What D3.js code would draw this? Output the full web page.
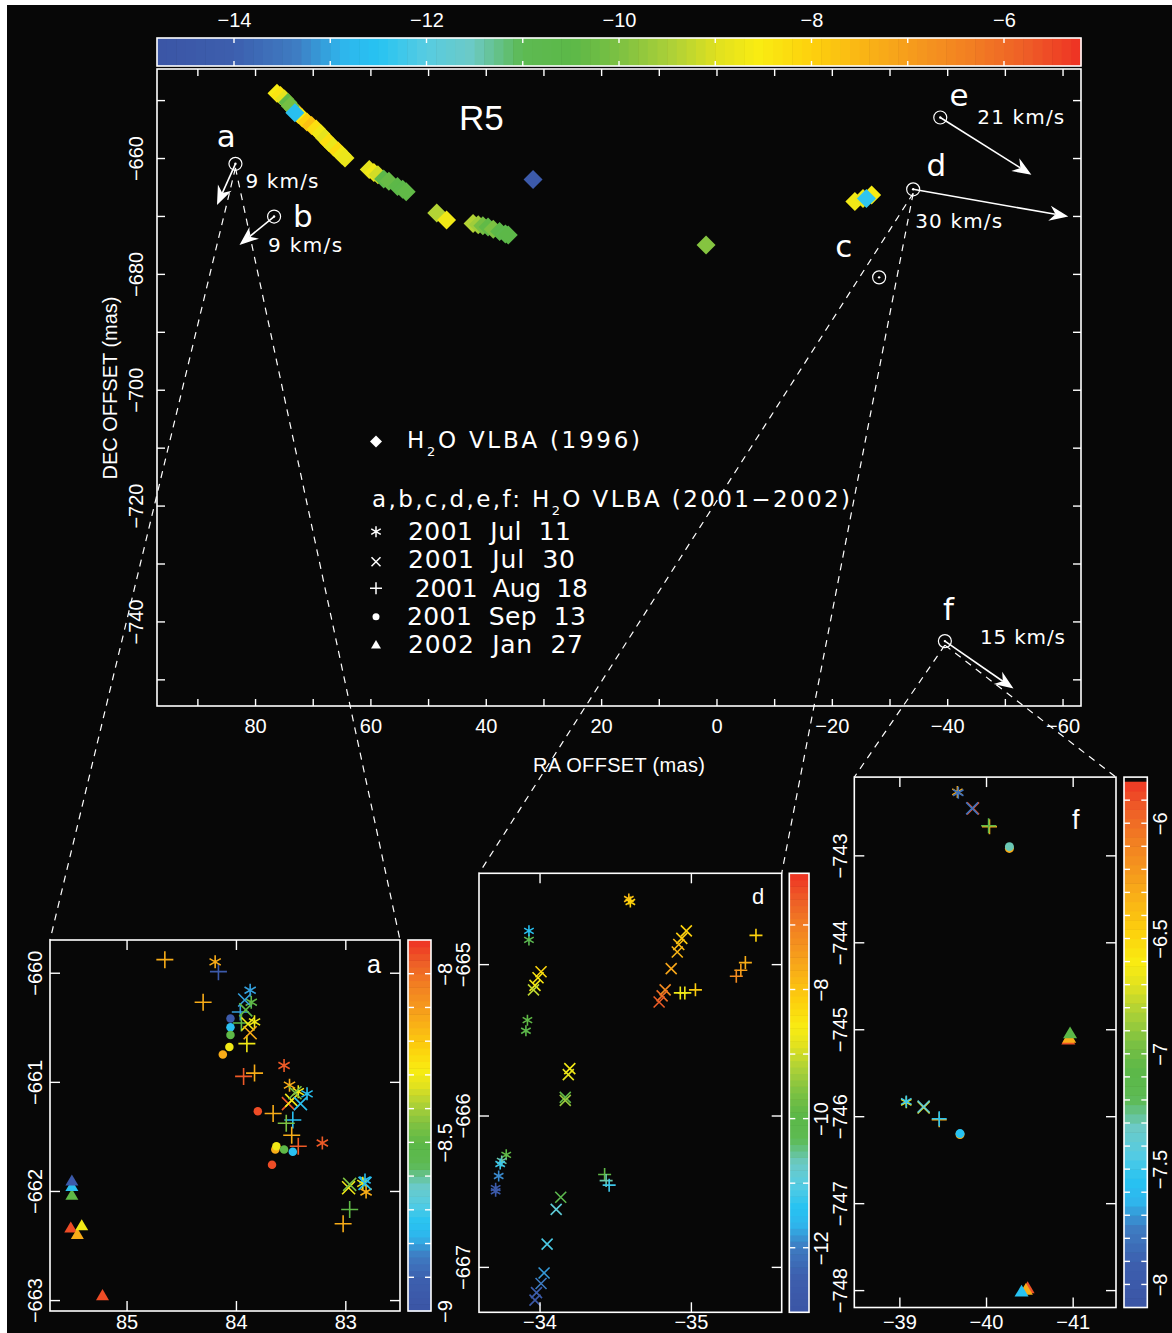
<!DOCTYPE html>
<html><head><meta charset="utf-8">
<script src="https://cdn.jsdelivr.net/npm/d3@7"></script>
<style>
html,body{margin:0;padding:0;background:#fff;}
svg{display:block;}
text{font-family:"Liberation Sans","DejaVu Sans",sans-serif;fill:#fff;}
text.dv{font-family:"DejaVu Sans","Liberation Sans",sans-serif;}
</style>
</head><body>
<svg id="c" width="1172" height="1333"></svg>
<script>
// ---------------- DATA ----------------
// 1996 VLBA H2O maser spots: [RA offset (mas), DEC offset (mas), LSR velocity (km/s)]
const spots1996 = [
  [76.2,-648.8,-8.6],[75.6,-649.2,-8.4],[74.9,-649.8,-8.9],[73.3,-651.6,-7.4],
  [72.5,-652.5,-8.1],[71.8,-653.1,-8.6],[71.0,-653.8,-8.0],[70.2,-654.4,-7.7],
  [69.4,-655.0,-8.3],[68.6,-655.8,-8.7],[67.9,-656.6,-8.9],[67.2,-657.3,-8.3],
  [66.4,-658.1,-8.8],[65.6,-658.8,-8.2],[64.9,-659.5,-8.7],[64.4,-660.0,-8.8],
  [74.3,-650.4,-10.4],[73.9,-651.0,-10.1],[73.1,-652.2,-12.6],
  [60.2,-662.0,-8.9],[59.4,-662.5,-8.7],[58.7,-662.9,-9.1],[57.7,-663.6,-10.6],
  [56.8,-664.0,-10.3],[55.3,-664.9,-10.5],[54.4,-665.4,-10.6],[53.8,-665.8,-10.4],
  [48.5,-669.5,-9.4],[46.8,-670.7,-8.7],
  [42.2,-671.3,-9.4],[41.3,-671.5,-9.6],[40.5,-671.7,-10.1],[39.6,-671.9,-10.4],
  [38.7,-672.3,-10.0],[37.6,-672.7,-10.5],[36.6,-673.1,-10.7],[36.1,-673.3,-10.5],
  [31.8,-663.7,-14.4],
  [1.8,-675.0,-9.9],
  [-24.0,-667.5,-8.7],[-25.4,-667.0,-8.8],[-26.9,-666.4,-8.6],[-26.0,-667.0,-12.4]
];
// 2001-2002 maser features and proper motions
const featureNames = ["a","b","c","d","e","f"];
const featureRA    = [83.4, 76.7, -28.2, -34.1, -38.8, -39.6];
const featureDec   = [-661.0, -670.1, -680.6, -665.4, -653.0, -743.4];
const motionTipRA  = [86.6, 82.7, null, -61.0, -54.6, -51.5];
const motionTipDec = [-668.1, -675.0, null, -670.1, -662.9, -751.6];
const motionSpeed  = ["9 km/s","9 km/s",null,"30 km/s","21 km/s","15 km/s"];
// epochs
const epochSymbols = ["ast","x","plus","dot","tri"];
const epochLabels  = ["2001  Jul  11","2001  Jul  30"," 2001  Aug  18","2001  Sep  13","2002  Jan  27"];
// inset spots: [RA, DEC, velocity, epoch symbol]
const insetASpots = [
  [84.65,-659.88,-8.14,"plus"],[84.16,-659.99,-8.95,"plus"],[84.30,-660.27,-8.14,"plus"],[83.96,-660.36,-8.8,"plus"],
  [83.95,-660.46,-8.5,"plus"],[83.90,-660.65,-8.3,"plus"],[83.93,-660.95,-7.96,"plus"],[83.83,-660.92,-8.14,"plus"],
  [83.66,-661.29,-8.14,"plus"],[83.48,-661.35,-8.75,"plus"],[83.54,-661.38,-8.45,"plus"],[83.49,-661.49,-8.14,"plus"],
  [83.43,-661.59,-7.96,"plus"],[82.96,-662.17,-8.5,"plus"],[83.02,-662.30,-8.14,"plus"],
  [84.19,-659.90,-8.14,"ast"],[83.87,-660.16,-8.8,"ast"],[83.86,-660.27,-8.5,"ast"],[83.83,-660.45,-8.3,"ast"],
  [83.56,-660.85,-7.96,"ast"],[83.51,-661.03,-8.14,"ast"],[83.43,-661.09,-8.3,"ast"],[83.35,-661.11,-8.75,"ast"],
  [83.21,-661.56,-7.96,"ast"],[82.82,-661.90,-8.75,"ast"],[82.84,-661.93,-8.3,"ast"],[82.81,-662.01,-8.14,"ast"],
  [83.92,-660.25,-8.8,"x"],[83.91,-660.34,-8.5,"x"],[83.89,-660.47,-8.3,"x"],[83.87,-660.55,-8.14,"x"],
  [83.52,-661.20,-7.96,"x"],[83.49,-661.17,-8.3,"x"],[83.41,-661.20,-8.75,"x"],[83.46,-661.10,-8.45,"x"],
  [82.97,-661.97,-8.3,"x"],[82.96,-661.94,-8.45,"x"],[82.82,-661.93,-8.75,"x"],
  [84.05,-660.42,-8.95,"dot"],[84.05,-660.50,-8.75,"dot"],[84.05,-660.57,-8.5,"dot"],[84.06,-660.68,-8.3,"dot"],
  [84.12,-660.75,-8.14,"dot"],[83.80,-661.27,-7.94,"dot"],[83.64,-661.62,-8.14,"dot"],[83.63,-661.59,-8.3,"dot"],
  [83.56,-661.62,-8.5,"dot"],[83.48,-661.64,-8.75,"dot"],[83.67,-661.76,-7.94,"dot"],
  [85.50,-662.04,-8.5,"tri"],[85.50,-661.96,-8.75,"tri"],[85.50,-661.91,-8.95,"tri"],
  [85.51,-662.34,-7.94,"tri"],[85.45,-662.40,-8.14,"tri"],[85.41,-662.32,-8.3,"tri"],[85.22,-662.96,-7.94,"tri"]
];
const insetDSpots = [
  [-34.59,-664.57,-7.9,"ast"],[-34.60,-664.59,-8.2,"ast"],[-33.93,-664.84,-10.3,"ast"],[-33.93,-664.78,-11.4,"ast"],
  [-33.92,-665.37,-9.9,"ast"],[-33.91,-665.44,-10.0,"ast"],[-33.78,-666.26,-9.9,"ast"],
  [-33.75,-666.30,-10.6,"ast"],[-33.74,-666.32,-11.2,"ast"],[-33.73,-666.40,-11.9,"ast"],
  [-33.71,-666.48,-12.6,"ast"],[-33.71,-666.50,-12.7,"ast"],
  [-34.01,-665.05,-8.25,"x"],[-33.99,-665.09,-8.5,"x"],[-33.97,-665.14,-8.7,"x"],[-33.96,-665.17,-9.1,"x"],
  [-34.20,-665.69,-8.65,"x"],[-34.19,-665.73,-8.8,"x"],[-34.17,-665.88,-9.9,"x"],[-34.17,-665.90,-9.4,"x"],
  [-34.14,-666.54,-10.2,"x"],[-34.11,-666.62,-10.9,"x"],[-34.05,-666.85,-11.1,"x"],[-34.03,-667.04,-11.8,"x"],
  [-34.01,-667.11,-12.0,"x"],[-33.98,-667.17,-12.5,"x"],[-33.97,-667.22,-12.8,"x"],
  [-34.97,-664.78,-8.2,"x"],[-34.94,-664.83,-8.1,"x"],[-34.92,-664.87,-7.9,"x"],[-34.91,-664.92,-7.8,"x"],
  [-34.87,-665.03,-7.6,"x"],[-34.83,-665.17,-7.2,"x"],[-34.81,-665.21,-6.8,"x"],[-34.79,-665.25,-6.6,"x"],
  [-35.43,-664.81,-8.2,"plus"],[-35.36,-664.99,-7.7,"plus"],[-35.33,-665.04,-7.5,"plus"],[-35.30,-665.08,-7.2,"plus"],
  [-35.03,-665.17,-8.1,"plus"],[-34.96,-665.19,-8.7,"plus"],[-34.93,-665.19,-8.7,"plus"],
  [-34.43,-666.39,-9.9,"plus"],[-34.44,-666.43,-10.6,"plus"],[-34.46,-666.46,-11.2,"plus"]
];
const insetFSpots = [
  [-39.67,-742.27,-6.3,"ast"],[-39.68,-742.28,-7.82,"ast"],
  [-39.85,-742.46,-5.9,"x"],[-39.84,-742.46,-7.82,"x"],
  [-40.04,-742.67,-6.3,"plus"],[-40.03,-742.66,-7.07,"plus"],
  [-40.27,-742.92,-6.3,"dot"],[-40.27,-742.90,-7.3,"dot"],
  [-40.95,-745.12,-5.9,"tri"],[-40.96,-745.10,-6.3,"tri"],[-40.97,-745.05,-7.07,"tri"],
  [-39.08,-745.84,-6.63,"ast"],[-39.08,-745.83,-7.5,"ast"],
  [-39.28,-745.90,-6.63,"x"],[-39.28,-745.89,-7.36,"x"],
  [-39.46,-746.04,-6.3,"plus"],[-39.46,-746.03,-7.55,"plus"],
  [-39.70,-746.21,-6.3,"dot"],[-39.70,-746.20,-7.55,"dot"],
  [-40.48,-747.98,-5.9,"tri"],[-40.46,-748.00,-6.3,"tri"],[-40.41,-748.02,-7.55,"tri"]
];
// axis ticks
const mainXLabels = [80,60,40,20,0,-20,-40,-60];
const mainYLabels = [-660,-680,-700,-720,-740];
const mainCbLabels = [-14,-12,-10,-8,-6];
const insetAXTicks = [85,84,83], insetAYTicks = [-660,-661,-662,-663];
const insetDXTicks = [-34,-35],  insetDYTicks = [-665,-666,-667];
const insetFXTicks = [-39,-40,-41], insetFYTicks = [-743,-744,-745,-746,-747,-748];
const cbALabels = [-8,-8.5,-9], cbDLabels = [-8,-10,-12], cbFLabels = [-6,-6.5,-7,-7.5,-8];

// ---------------- STYLE ----------------
const FONT = '"Liberation Sans","DejaVu Sans",sans-serif';
const stopT = [0,.083,.15,.20,.24,.29,.34,.395,.45,.50,.56,.61,.65,.71,.77,.83,.88,.94,1];
const stopC = ["#3b55a5","#3d5fae","#3e7cc2","#2fb5ec","#27c3f2","#56cce2","#6ccac6","#5dba52","#5cb848",
               "#7cc142","#b0d236","#e3e21e","#f9ec12","#fdd00d","#f9b216","#f5951e","#f27f22","#ee5e27","#ee3124"];
const ramp = d3.scaleLinear().domain(stopT).range(stopC).interpolate(d3.interpolateRgb).clamp(true);
function velColor(dom){ const s=d3.scaleLinear().domain(dom).range([0,1]).clamp(true); return v=>ramp(s(v)); }

const svg = d3.select("#c");
svg.append("rect").attr("x",7).attr("y",5).attr("width",1165).attr("height",1328).attr("fill","#070707");

function fit(t,w){ const n=t.text().length; const L=t.node().getComputedTextLength(); if(n>1) t.attr("letter-spacing",(w-L)/(n-1)); return t; }
function symPath(sym,s){
  const r=s/2;
  if(sym==="ast"){ const c=r*Math.cos(Math.PI/6), d=r*Math.sin(Math.PI/6); return `M0,${-r}V${r}M${-c},${-d}L${c},${d}M${-c},${d}L${c},${-d}`; }
  if(sym==="x"){ return `M${-r},${-r}L${r},${r}M${-r},${r}L${r},${-r}`; }
  if(sym==="plus") return `M${-r},0H${r}M0,${-r}V${r}`;
  if(sym==="dot") return `M${r},0A${r},${r} 0 1,1 ${-r},0A${r},${r} 0 1,1 ${r},0Z`;
  if(sym==="tri"){ const h=s*0.85; return `M0,${-h*0.6}L${r},${h*0.4}L${-r},${h*0.4}Z`; }
  if(sym==="dia") return `M0,${-r}L${r},0L0,${r}L${-r},0Z`;
}
const FILLED = {dot:1,tri:1,dia:1};
function drawSpots(g, rows, xs, ys, col, sizes){
  g.selectAll("path.spot").data(rows).join("path").attr("class","spot")
    .attr("transform",d=>`translate(${xs(d[0])},${ys(d[1])})`)
    .attr("d",d=>symPath(d[3],sizes[d[3]]))
    .attr("fill",d=>FILLED[d[3]]?col(d[2]):"none")
    .attr("stroke",d=>FILLED[d[3]]?"none":col(d[2]))
    .attr("stroke-width",1.6);
}
function styleAxis(g,size){
  g.attr("color","#fff").attr("font-size",size||20).attr("font-family",FONT);
  g.select(".domain").remove();
  g.selectAll("line").attr("stroke-width",1.4);
  return g;
}
function rotLabels(g,off){
  g.selectAll(".tick text").attr("x",null).attr("y",null).attr("dy",null)
    .attr("text-anchor","middle").attr("transform",`translate(${off},0) rotate(-90)`);
}
function frame(x0,x1,y0,y1){
  svg.append("rect").attr("x",x0).attr("y",y0).attr("width",x1-x0).attr("height",y1-y0)
    .attr("fill","none").attr("stroke","#fff").attr("stroke-width",1.6);
}
function arrow(g,x1,y1,x2,y2){
  const dx=x2-x1, dy=y2-y1, len=Math.hypot(dx,dy), ux=dx/len, uy=dy/len, nx=-uy, ny=ux;
  const L=19, w=7.5, notch=6;
  g.append("line").attr("x1",x1).attr("y1",y1).attr("x2",x2-ux*(L-notch)).attr("y2",y2-uy*(L-notch))
    .attr("stroke","#fff").attr("stroke-width",1.6);
  const bx=x2-ux*L, by=y2-uy*L, qx=x2-ux*(L-notch), qy=y2-uy*(L-notch);
  g.append("path").attr("d",`M${x2},${y2}L${bx+nx*w},${by+ny*w}L${qx},${qy}L${bx-nx*w},${by-ny*w}Z`).attr("fill","#fff");
}

// ---------------- MAIN PANEL ----------------
const MX0=157,MX1=1081,MY0=69,MY1=706;
const mx=d3.scaleLinear().domain([97.0,-63.2]).range([MX0,MX1]);
const my=d3.scaleLinear().domain([-644.63,-754.6]).range([MY0,MY1]);

// main colour bar
(function(){
  const dom=[-14.8,-5.2], x0=157,x1=1081,y0=38,y1=66, step=0.1;
  const s=d3.scaleLinear().domain(dom).range([x0,x1]); const col=velColor(dom);
  const vals=d3.range(0,Math.round((dom[1]-dom[0])/step)).map(i=>dom[0]+i*step);
  svg.append("g").selectAll("rect").data(vals).join("rect")
    .attr("x",v=>s(v)).attr("y",y0).attr("height",y1-y0)
    .attr("width",v=>Math.min(s(v+step),x1)-s(v)+0.6).attr("fill",v=>col(v+step/2));
  const tv=d3.range(-14,-5.5,1);
  const tg=svg.append("g");
  tg.selectAll("line.t").data(tv).join("line").attr("x1",v=>s(v)).attr("x2",v=>s(v)).attr("y1",y0).attr("y2",y0+5).attr("stroke","#fff").attr("stroke-width",1.4);
  tg.selectAll("line.b").data(tv).join("line").attr("x1",v=>s(v)).attr("x2",v=>s(v)).attr("y1",y1-5).attr("y2",y1).attr("stroke","#fff").attr("stroke-width",1.4);
  frame(x0,x1,y0,y1);
  const ax=svg.append("g").attr("transform",`translate(0,${y0})`)
    .call(d3.axisTop(s).tickValues(mainCbLabels).tickSize(0).tickPadding(11).tickFormat(d3.format("")));
  styleAxis(ax,20);
})();

// main axes ticks
const minorX=d3.range(-60,91,10), minorY=d3.range(-750,-649,10);
styleAxis(svg.append("g").attr("transform",`translate(0,${MY1})`).call(d3.axisBottom(mx).tickValues(minorX).tickSize(-7).tickFormat("")));
styleAxis(svg.append("g").attr("transform",`translate(0,${MY0})`).call(d3.axisTop(mx).tickValues(minorX).tickSize(-7).tickFormat("")));
styleAxis(svg.append("g").attr("transform",`translate(${MX0},0)`).call(d3.axisLeft(my).tickValues(minorY).tickSize(-8).tickFormat("")));
styleAxis(svg.append("g").attr("transform",`translate(${MX1},0)`).call(d3.axisRight(my).tickValues(minorY).tickSize(-8).tickFormat("")));
styleAxis(svg.append("g").attr("transform",`translate(0,${MY1})`).call(d3.axisBottom(mx).tickValues(mainXLabels).tickSize(0).tickPadding(13).tickFormat(d3.format(""))));
const gyl=styleAxis(svg.append("g").attr("transform",`translate(${MX0},0)`).call(d3.axisLeft(my).tickValues(mainYLabels).tickSize(0).tickFormat(d3.format(""))));
rotLabels(gyl,-14);
frame(MX0,MX1,MY0,MY1);

fit(svg.append("text").attr("x",533).attr("y",772).attr("font-size",20).text("RA OFFSET (mas)"),172);
fit(svg.append("text").attr("transform","translate(117,388) rotate(-90)").attr("text-anchor","middle").attr("font-size",20).text("DEC OFFSET (mas)"),183);
svg.append("text").attr("x",459).attr("y",130).attr("font-size",35).text("R5");

// 1996 diamonds
const mainCol=velColor([-14.8,-5.2]);
drawSpots(svg.append("g"), spots1996.map(d=>[d[0],d[1],d[2],"dia"]), mx, my, mainCol, {dia:19});

// features, arrows, labels
const letterOff={a:[-18.6,-17],b:[19,10],c:[-44,-20.6],d:[13.4,-13],e:[9.3,-11],f:[-2,-20.7]};
const speedOff ={a:[10,24],b:[-6,35],d:[2,39],e:[37,7],f:[35,3]};
const speedW   ={a:73,b:74,d:87,e:87,f:85};
const fg=svg.append("g");
featureNames.forEach((n,i)=>{
  const cx=mx(featureRA[i]), cy=my(featureDec[i]);
  fg.append("circle").attr("cx",cx).attr("cy",cy).attr("r",6.5).attr("fill","none").attr("stroke","#fff").attr("stroke-width",1.2);
  fg.append("circle").attr("cx",cx).attr("cy",cy).attr("r",1.2).attr("fill","#fff");
  fg.append("text").attr("class","dv").attr("x",cx+letterOff[n][0]).attr("y",cy+letterOff[n][1]).attr("font-size",31).text(n);
  if(motionTipRA[i]!==null){
    arrow(fg,cx,cy,mx(motionTipRA[i]),my(motionTipDec[i]));
    fit(fg.append("text").attr("class","dv").attr("x",cx+speedOff[n][0]).attr("y",cy+speedOff[n][1]).attr("font-size",20).text(motionSpeed[i]),speedW[n]);
  }
});

// legend
const lg=svg.append("g");
lg.append("path").attr("transform","translate(376,441.5)").attr("d",symPath("dia",12)).attr("fill","#fff");
function h2oText(x,y,pre,post,w){
  const t=lg.append("text").attr("class","dv").attr("x",x).attr("y",y).attr("font-size",23);
  t.append("tspan").text(pre+"H");
  t.append("tspan").attr("dy",8).attr("font-size",13).text("2");
  t.append("tspan").attr("dy",-8).text(post);
  fit(t,w);
}
h2oText(407,448,"","O VLBA (1996)",233);
h2oText(372,507,"a,b,c,d,e,f: ","O VLBA (2001\u22122002)",478);
const legY=[531.7,561.7,588.3,616.7,645], legBase=[540,568.3,596.7,625,653.3];
const legW=[163,167,181,179,175], legX=[408,408,407,407,408];
const legSz={ast:11,x:9,plus:12,dot:7,tri:10};
epochSymbols.forEach((s,i)=>{
  lg.append("path").attr("transform",`translate(376,${legY[i]})`).attr("d",symPath(s,legSz[s]))
    .attr("fill",FILLED[s]?"#fff":"none").attr("stroke",FILLED[s]?"none":"#fff").attr("stroke-width",1.5);
  const t=lg.append("text").attr("class","dv").attr("x",legX[i]).attr("y",legBase[i]).attr("font-size",25).style("white-space","pre").text(epochLabels[i]);
  fit(t,legW[i]);
});

// ---------------- INSETS ----------------
function inset(cfg){
  const {x0,x1,y0,y1,xd,yd,xt,yt,spots,cbx0,cbx1,cbDom,cbStep,cbTickStep,cbLabels,sizes,xpad,yoff,cboff,label,labelPos,labelSize}=cfg;
  const xs=d3.scaleLinear().domain(xd).range([x0,x1]);
  const ys=d3.scaleLinear().domain(yd).range([y0,y1]);
  const col=velColor(cbDom);
  drawSpots(svg.append("g"),spots,xs,ys,col,sizes);
  const gb=styleAxis(svg.append("g").attr("transform",`translate(0,${y1})`).call(d3.axisBottom(xs).tickValues(xt).tickSize(-10).tickPadding(xpad).tickFormat(d3.format(""))));
  gb.selectAll(".tick text").attr("dy",null).attr("y",1329-y1);
  styleAxis(svg.append("g").attr("transform",`translate(0,${y0})`).call(d3.axisTop(xs).tickValues(xt).tickSize(-10).tickFormat("")));
  const gl=styleAxis(svg.append("g").attr("transform",`translate(${x0},0)`).call(d3.axisLeft(ys).tickValues(yt).tickSize(-10).tickPadding(0).tickFormat(d3.format(""))));
  rotLabels(gl,-yoff);
  styleAxis(svg.append("g").attr("transform",`translate(${x1},0)`).call(d3.axisRight(ys).tickValues(yt).tickSize(-10).tickFormat("")));
  frame(x0,x1,y0,y1);
  svg.append("text").attr("x",labelPos[0]).attr("y",labelPos[1]).attr("font-size",labelSize).text(label);
  // vertical colour bar
  const cs=d3.scaleLinear().domain(cbDom).range([y1,y0]);
  const n=Math.round((cbDom[1]-cbDom[0])/cbStep);
  const vals=d3.range(0,n).map(i=>cbDom[0]+i*cbStep);
  svg.append("g").selectAll("rect").data(vals).join("rect")
    .attr("x",cbx0).attr("width",cbx1-cbx0).attr("y",v=>Math.max(cs(v+cbStep),y0)).attr("height",v=>cs(v)-Math.max(cs(v+cbStep),y0)+0.6)
    .attr("fill",v=>col(v+cbStep/2));
  const tv=[]; for(let v=Math.ceil(cbDom[0]/cbTickStep+1e-6)*cbTickStep; v<cbDom[1]-1e-6; v+=cbTickStep) tv.push(+v.toFixed(3));
  const tg=svg.append("g");
  tg.selectAll("line.l").data(tv).join("line").attr("x1",cbx0).attr("x2",cbx0+6).attr("y1",v=>cs(v)).attr("y2",v=>cs(v)).attr("stroke","#fff").attr("stroke-width",1.4);
  tg.selectAll("line.r").data(tv).join("line").attr("x1",cbx1-6).attr("x2",cbx1).attr("y1",v=>cs(v)).attr("y2",v=>cs(v)).attr("stroke","#fff").attr("stroke-width",1.4);
  frame(cbx0,cbx1,y0,y1);
  const ga=styleAxis(svg.append("g").attr("transform",`translate(${cbx1},0)`).call(d3.axisRight(cs).tickValues(cbLabels).tickSize(0).tickFormat(d3.format(""))));
  rotLabels(ga,cboff);
  return {xs,ys};
}
const A={x0:50,x1:400,y0:940,y1:1311}, D={x0:479,x1:781.7,y0:873.3,y1:1312.3}, F={x0:854.3,x1:1116,y0:777.1,y1:1307.5};
inset(Object.assign({},A,{xd:[85.70,82.50],yd:[-659.70,-663.10],xt:insetAXTicks,yt:insetAYTicks,spots:insetASpots,
  cbx0:408,cbx1:431,cbDom:[-9.0,-7.9],cbStep:0.02,cbTickStep:0.1,cbLabels:cbALabels,
  sizes:{ast:13,x:13,plus:17,dot:8.5,tri:13},xpad:10,yoff:8,cboff:21,label:"a",labelPos:[367,973],labelSize:25}));
inset(Object.assign({},D,{xd:[-33.60,-35.60],yd:[-664.40,-667.30],xt:insetDXTicks,yt:insetDYTicks,spots:insetDSpots,
  cbx0:789.3,cbx1:809,cbDom:[-13.0,-6.2],cbStep:0.1,cbTickStep:1,cbLabels:cbDLabels,
  sizes:{ast:11,x:11,plus:13,dot:8,tri:12},xpad:8,yoff:9,cboff:19,label:"d",labelPos:[752,904],labelSize:22}));
inset(Object.assign({},F,{xd:[-38.48,-41.50],yd:[-742.10,-748.20],xt:insetFXTicks,yt:insetFYTicks,spots:insetFSpots,
  cbx0:1124,cbx1:1147.3,cbDom:[-8.1,-5.8],cbStep:0.04,cbTickStep:0.1,cbLabels:cbFLabels,
  sizes:{ast:12,x:12,plus:15,dot:9,tri:14},xpad:9,yoff:7,cboff:20,label:"f",labelPos:[1072,829],labelSize:27}));

// dashed zoom lines from features to insets
const dg=svg.append("g").attr("stroke","#fff").attr("stroke-width",1.2).attr("stroke-dasharray","7,6").attr("fill","none");
[[0,A],[3,D],[5,F]].forEach(([i,box])=>{
  const cx=mx(featureRA[i]), cy=my(featureDec[i]);
  dg.append("line").attr("x1",cx).attr("y1",cy+4).attr("x2",box.x0).attr("y2",box.y0);
  dg.append("line").attr("x1",cx).attr("y1",cy+4).attr("x2",box.x1).attr("y2",box.y0);
});
</script>
</body></html>
